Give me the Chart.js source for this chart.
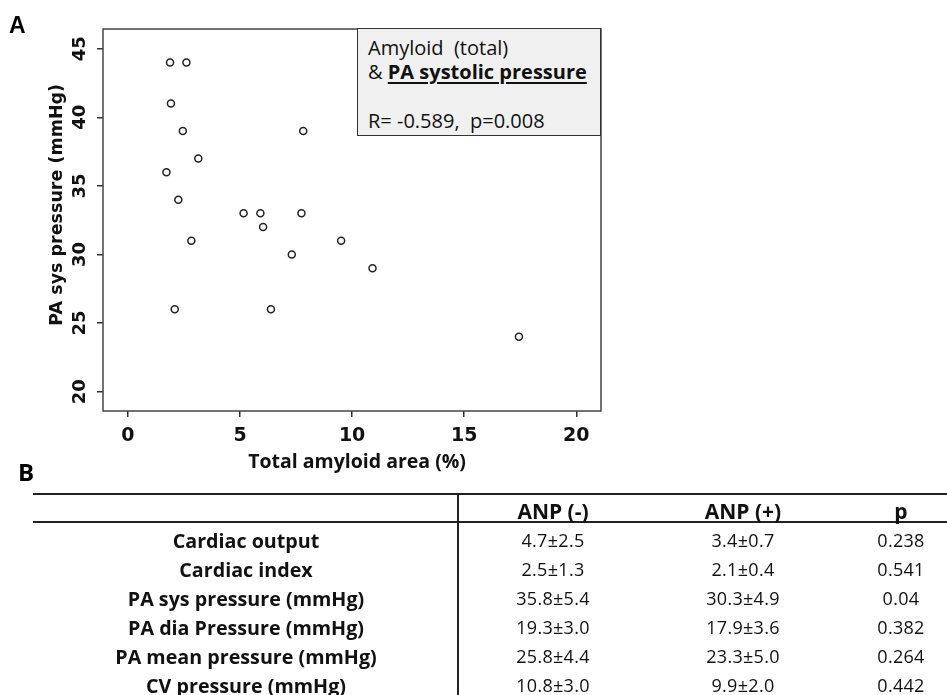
<!DOCTYPE html>
<html>
<head>
<meta charset="utf-8">
<script src="https://cdn.jsdelivr.net/npm/chart.js@4/dist/chart.umd.min.js"></script>
<style>
  html, body { margin: 0; padding: 0; background: #fff; }
  #wrap { position: relative; width: 947px; height: 695px; overflow: hidden; background: #fff; }
  #chartBox { position: absolute; left: 0; top: 0; width: 947px; height: 480px; }
  .panel { position: absolute; font-weight: bold; color: #000; }
  #labA { left: 9px; top: 12px; font: bold 23px "Liberation Sans", Arial, sans-serif; }
  #labB { left: 18px; top: 455px; font: bold 24px "Open Sans", sans-serif; }
  #note { position: absolute; left: 357px; top: 28px; width: 242px; height: 106px;
          border: 1.5px solid #333; background: #f0f0f0; font: 20px "Open Sans", sans-serif; color: #111; }
  #note div { position: absolute; left: 10px; white-space: pre; line-height: 24px; }
  #note u { font-weight: bold; text-underline-offset: 3px; }
  #tbl { position: absolute; left: 0; top: 0; width: 947px; height: 695px; pointer-events: none; }
  .hline { position: absolute; left: 33px; right: 0; height: 2px; background: #222; }
  .vline { position: absolute; left: 457px; width: 1.5px; background: #222; top: 494px; bottom: 0; }
  .cell { position: absolute; transform: translate(-50%, -50%); white-space: nowrap; color: #111; }
  .lab { font: bold 19.7px "Open Sans", sans-serif; }
  .hdr { font: bold 21px "Open Sans", sans-serif; }
  .val { font: 18px "Open Sans", sans-serif; letter-spacing: 0.3px; }
</style>
</head>
<body>
<div id="wrap">
  <div id="chartBox"><canvas id="c"></canvas></div>
  <div id="labA" class="panel">A</div>
  <div id="labB" class="panel">B</div>
  <div id="note">
    <div style="top:7px">Amyloid  (total)</div>
    <div style="top:31px">&amp; <u>PA systolic pressure</u></div>
    <div style="top:80px">R= -0.589,  p=0.008</div>
  </div>
  <div id="tbl"></div>
</div>
<script>
// ---- scatter data (Total amyloid area %, PA systolic pressure mmHg)
const amyloidArea = [1.88, 2.61, 1.92, 2.45, 7.82, 3.14, 1.72, 2.25, 5.16, 5.91, 7.74, 6.03, 2.83, 9.51, 7.31, 10.91, 2.09, 6.38, 17.44];
const paSysPressure = [44, 44, 41, 39, 39, 37, 36, 34, 33, 33, 33, 32, 31, 31, 30, 29, 26, 26, 24];
const xTickValues = [0, 5, 10, 15, 20];
const yTickValues = [20, 25, 30, 35, 40, 45];
const xRange = [-1.11, 21.10];
const yRange = [18.59, 46.44];

// ---- table data
const tableRows = ["Cardiac output", "Cardiac index", "PA sys pressure (mmHg)", "PA dia Pressure (mmHg)", "PA mean pressure (mmHg)", "CV pressure (mmHg)"];
const tableHeader = ["ANP (-)", "ANP (+)", "p"];
const anpNeg = ["4.7±2.5", "2.5±1.3", "35.8±5.4", "19.3±3.0", "25.8±4.4", "10.8±3.0"];
const anpPos = ["3.4±0.7", "2.1±0.4", "30.3±4.9", "17.9±3.6", "23.3±5.0", "9.9±2.0"];
const pValues = ["0.238", "0.541", "0.04", "0.382", "0.264", "0.442"];

const points = amyloidArea.map((x, i) => ({ x: x, y: paSysPressure[i] }));

const frame = {
  id: 'frame',
  afterDatasetsDraw(chart) {
    const a = chart.chartArea, ctx = chart.ctx;
    ctx.save();
    ctx.strokeStyle = '#444';
    ctx.lineWidth = 1.5;
    ctx.strokeRect(a.left, a.top, a.right - a.left, a.bottom - a.top);
    ctx.restore();
  }
};

new Chart(document.getElementById('c'), {
  type: 'scatter',
  data: {
    datasets: [{
      data: points,
      pointStyle: 'circle',
      pointRadius: 3.5,
      pointHoverRadius: 3.5,
      pointBorderWidth: 1.5,
      borderColor: '#222',
      backgroundColor: '#fff'
    }]
  },
  options: {
    responsive: true,
    maintainAspectRatio: false,
    animation: false,
    events: [],
    layout: { padding: { left: 0, top: 29, right: 346, bottom: 0 } },
    plugins: { legend: { display: false }, tooltip: { enabled: false } },
    scales: {
      x: {
        type: 'linear',
        min: xRange[0], max: xRange[1],
        afterBuildTicks: s => { s.ticks = xTickValues.map(v => ({ value: v })); },
        afterFit: s => { s.height = 480 - 411; },
        grid: { display: true, drawOnChartArea: false, drawTicks: true, tickLength: 6, color: '#333', lineWidth: 1.5 },
        border: { display: false },
        ticks: { color: '#111', padding: 8, maxRotation: 0, font: { family: 'DejaVu Sans', weight: 'bold', size: 19 } },
        title: { display: true, text: '  Total amyloid area (%)', color: '#111', padding: { top: 0, bottom: 6 },
                 font: { family: 'Open Sans', weight: 'bold', size: 19.5 } }
      },
      y: {
        type: 'linear',
        min: yRange[0], max: yRange[1],
        afterBuildTicks: s => { s.ticks = yTickValues.map(v => ({ value: v })); },
        afterFit: s => { s.width = 103; },
        grid: { display: true, drawOnChartArea: false, drawTicks: true, tickLength: 6, color: '#333', lineWidth: 1.5 },
        border: { display: false },
        ticks: { color: '#111', padding: 4, minRotation: 90, maxRotation: 90, crossAlign: 'center',
                 font: { family: 'DejaVu Sans', weight: 'bold', size: 18 } },
        title: { display: true, text: '     PA sys pressure (mmHg)', color: '#111', padding: { top: 47, bottom: 0 },
                 font: { family: 'DejaVu Sans', weight: 'bold', size: 17.5 } }
      }
    }
  },
  plugins: [frame]
});

// ---- table (HTML)
(function () {
  const t = document.getElementById('tbl');
  function add(cls, text, x, y) {
    const d = document.createElement('div');
    d.className = 'cell ' + cls;
    d.textContent = text;
    d.style.left = x + 'px';
    d.style.top = y + 'px';
    t.appendChild(d);
  }
  [494, 522].forEach(y => { const l = document.createElement('div'); l.className = 'hline'; l.style.top = (y - 1) + 'px'; t.appendChild(l); });
  const v = document.createElement('div'); v.className = 'vline'; t.appendChild(v);
  const colX = [553, 743, 901];
  tableHeader.forEach((h, i) => add('hdr', h, colX[i], 510.5));
  const rowY0 = 540, rowStep = 29;
  tableRows.forEach((r, i) => {
    const y = rowY0 + i * rowStep;
    add('lab', r, 246, y);
    add('val', anpNeg[i], colX[0], y);
    add('val', anpPos[i], colX[1], y);
    add('val', pValues[i], colX[2], y);
  });
})();
</script>
</body>
</html>
